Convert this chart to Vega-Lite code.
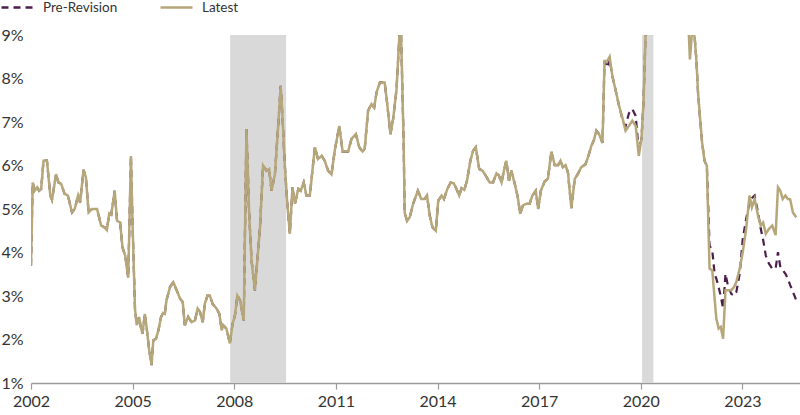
{
  "$schema": "https://vega.github.io/schema/vega-lite/v6.json",
  "width": 769,
  "height": 348,
  "autosize": {"type": "none"},
  "padding": {"left": 31, "top": 35, "right": 0, "bottom": 32},
  "background": "white",
  "config": {
    "view": {"stroke": null},
    "font": "Lato",
    "axis": {"grid": false, "title": null, "labelColor": "#333333", "labelFontSize": 16}
  },
  "datasets": {
    "recessions": [
      {"start": 2007.88, "end": 2009.53},
      {"start": 2020.04, "end": 2020.37}
    ],
    "series": [
      {"year": 2002.00, "latest": 3.70, "pre": 3.70},
      {"year": 2002.05, "latest": 5.61, "pre": 5.61},
      {"year": 2002.11, "latest": 5.42, "pre": 5.42},
      {"year": 2002.18, "latest": 5.50, "pre": 5.50},
      {"year": 2002.24, "latest": 5.42, "pre": 5.42},
      {"year": 2002.30, "latest": 5.46, "pre": 5.46},
      {"year": 2002.37, "latest": 6.11, "pre": 6.11},
      {"year": 2002.47, "latest": 6.11, "pre": 6.11},
      {"year": 2002.57, "latest": 5.31, "pre": 5.31},
      {"year": 2002.62, "latest": 5.21, "pre": 5.21},
      {"year": 2002.74, "latest": 5.80, "pre": 5.80},
      {"year": 2002.81, "latest": 5.61, "pre": 5.61},
      {"year": 2002.89, "latest": 5.58, "pre": 5.58},
      {"year": 2002.99, "latest": 5.35, "pre": 5.35},
      {"year": 2003.09, "latest": 5.31, "pre": 5.31},
      {"year": 2003.21, "latest": 4.92, "pre": 4.92},
      {"year": 2003.29, "latest": 5.00, "pre": 5.00},
      {"year": 2003.39, "latest": 5.31, "pre": 5.31},
      {"year": 2003.45, "latest": 5.15, "pre": 5.15},
      {"year": 2003.55, "latest": 5.90, "pre": 5.90},
      {"year": 2003.62, "latest": 5.73, "pre": 5.73},
      {"year": 2003.70, "latest": 4.92, "pre": 4.92},
      {"year": 2003.80, "latest": 5.00, "pre": 5.00},
      {"year": 2003.95, "latest": 5.00, "pre": 5.00},
      {"year": 2004.07, "latest": 4.62, "pre": 4.62},
      {"year": 2004.19, "latest": 4.57, "pre": 4.57},
      {"year": 2004.24, "latest": 4.52, "pre": 4.52},
      {"year": 2004.31, "latest": 4.90, "pre": 4.90},
      {"year": 2004.37, "latest": 4.87, "pre": 4.87},
      {"year": 2004.47, "latest": 5.42, "pre": 5.42},
      {"year": 2004.54, "latest": 4.73, "pre": 4.73},
      {"year": 2004.63, "latest": 4.69, "pre": 4.69},
      {"year": 2004.70, "latest": 4.12, "pre": 4.12},
      {"year": 2004.78, "latest": 3.93, "pre": 3.93},
      {"year": 2004.87, "latest": 3.42, "pre": 3.42},
      {"year": 2004.95, "latest": 6.22, "pre": 6.22},
      {"year": 2005.00, "latest": 4.60, "pre": 4.60},
      {"year": 2005.07, "latest": 2.70, "pre": 2.70},
      {"year": 2005.12, "latest": 2.33, "pre": 2.33},
      {"year": 2005.19, "latest": 2.52, "pre": 2.52},
      {"year": 2005.23, "latest": 2.33, "pre": 2.33},
      {"year": 2005.29, "latest": 2.13, "pre": 2.13},
      {"year": 2005.36, "latest": 2.59, "pre": 2.59},
      {"year": 2005.41, "latest": 2.29, "pre": 2.29},
      {"year": 2005.49, "latest": 1.75, "pre": 1.75},
      {"year": 2005.56, "latest": 1.41, "pre": 1.41},
      {"year": 2005.61, "latest": 1.98, "pre": 1.98},
      {"year": 2005.69, "latest": 2.02, "pre": 2.02},
      {"year": 2005.76, "latest": 2.21, "pre": 2.21},
      {"year": 2005.84, "latest": 2.52, "pre": 2.52},
      {"year": 2005.90, "latest": 2.61, "pre": 2.61},
      {"year": 2005.95, "latest": 2.59, "pre": 2.59},
      {"year": 2006.00, "latest": 2.90, "pre": 2.90},
      {"year": 2006.10, "latest": 3.20, "pre": 3.20},
      {"year": 2006.20, "latest": 3.32, "pre": 3.32},
      {"year": 2006.30, "latest": 3.13, "pre": 3.13},
      {"year": 2006.40, "latest": 2.94, "pre": 2.94},
      {"year": 2006.48, "latest": 2.86, "pre": 2.86},
      {"year": 2006.54, "latest": 2.33, "pre": 2.33},
      {"year": 2006.64, "latest": 2.52, "pre": 2.52},
      {"year": 2006.74, "latest": 2.40, "pre": 2.40},
      {"year": 2006.84, "latest": 2.44, "pre": 2.44},
      {"year": 2006.92, "latest": 2.71, "pre": 2.71},
      {"year": 2006.99, "latest": 2.63, "pre": 2.63},
      {"year": 2007.07, "latest": 2.40, "pre": 2.40},
      {"year": 2007.13, "latest": 2.82, "pre": 2.82},
      {"year": 2007.21, "latest": 3.01, "pre": 3.01},
      {"year": 2007.28, "latest": 3.01, "pre": 3.01},
      {"year": 2007.36, "latest": 2.82, "pre": 2.82},
      {"year": 2007.48, "latest": 2.71, "pre": 2.71},
      {"year": 2007.56, "latest": 2.59, "pre": 2.59},
      {"year": 2007.63, "latest": 2.21, "pre": 2.21},
      {"year": 2007.67, "latest": 2.33, "pre": 2.33},
      {"year": 2007.77, "latest": 2.25, "pre": 2.25},
      {"year": 2007.87, "latest": 1.91, "pre": 1.91},
      {"year": 2007.95, "latest": 2.36, "pre": 2.36},
      {"year": 2008.02, "latest": 2.55, "pre": 2.55},
      {"year": 2008.09, "latest": 3.01, "pre": 3.01},
      {"year": 2008.17, "latest": 2.90, "pre": 2.90},
      {"year": 2008.28, "latest": 2.44, "pre": 2.44},
      {"year": 2008.36, "latest": 6.84, "pre": 6.84},
      {"year": 2008.44, "latest": 4.89, "pre": 4.89},
      {"year": 2008.51, "latest": 3.82, "pre": 3.82},
      {"year": 2008.61, "latest": 3.13, "pre": 3.13},
      {"year": 2008.76, "latest": 4.58, "pre": 4.58},
      {"year": 2008.85, "latest": 6.00, "pre": 6.00},
      {"year": 2008.95, "latest": 5.88, "pre": 5.88},
      {"year": 2009.03, "latest": 5.92, "pre": 5.92},
      {"year": 2009.10, "latest": 5.42, "pre": 5.42},
      {"year": 2009.20, "latest": 5.80, "pre": 5.80},
      {"year": 2009.30, "latest": 6.95, "pre": 6.95},
      {"year": 2009.37, "latest": 7.83, "pre": 7.83},
      {"year": 2009.42, "latest": 7.18, "pre": 7.18},
      {"year": 2009.49, "latest": 6.03, "pre": 6.03},
      {"year": 2009.56, "latest": 5.19, "pre": 5.19},
      {"year": 2009.64, "latest": 4.43, "pre": 4.43},
      {"year": 2009.72, "latest": 5.50, "pre": 5.50},
      {"year": 2009.79, "latest": 5.12, "pre": 5.12},
      {"year": 2009.89, "latest": 5.46, "pre": 5.46},
      {"year": 2009.96, "latest": 5.42, "pre": 5.42},
      {"year": 2010.05, "latest": 5.61, "pre": 5.61},
      {"year": 2010.13, "latest": 5.31, "pre": 5.31},
      {"year": 2010.23, "latest": 5.31, "pre": 5.31},
      {"year": 2010.38, "latest": 6.42, "pre": 6.42},
      {"year": 2010.47, "latest": 6.15, "pre": 6.15},
      {"year": 2010.58, "latest": 6.22, "pre": 6.22},
      {"year": 2010.67, "latest": 6.11, "pre": 6.11},
      {"year": 2010.77, "latest": 5.88, "pre": 5.88},
      {"year": 2010.87, "latest": 5.80, "pre": 5.80},
      {"year": 2010.97, "latest": 6.36, "pre": 6.36},
      {"year": 2011.10, "latest": 6.91, "pre": 6.91},
      {"year": 2011.20, "latest": 6.32, "pre": 6.32},
      {"year": 2011.36, "latest": 6.32, "pre": 6.32},
      {"year": 2011.46, "latest": 6.61, "pre": 6.61},
      {"year": 2011.59, "latest": 6.72, "pre": 6.72},
      {"year": 2011.69, "latest": 6.42, "pre": 6.42},
      {"year": 2011.79, "latest": 6.32, "pre": 6.32},
      {"year": 2011.85, "latest": 6.38, "pre": 6.38},
      {"year": 2011.95, "latest": 7.26, "pre": 7.26},
      {"year": 2012.05, "latest": 7.41, "pre": 7.41},
      {"year": 2012.13, "latest": 7.33, "pre": 7.33},
      {"year": 2012.20, "latest": 7.68, "pre": 7.68},
      {"year": 2012.30, "latest": 7.91, "pre": 7.91},
      {"year": 2012.44, "latest": 7.91, "pre": 7.91},
      {"year": 2012.51, "latest": 7.45, "pre": 7.45},
      {"year": 2012.61, "latest": 6.72, "pre": 6.72},
      {"year": 2012.69, "latest": 7.07, "pre": 7.07},
      {"year": 2012.79, "latest": 7.75, "pre": 7.75},
      {"year": 2012.91, "latest": 9.50, "pre": 9.50},
      {"year": 2013.00, "latest": 6.53, "pre": 6.53},
      {"year": 2013.03, "latest": 4.92, "pre": 4.92},
      {"year": 2013.10, "latest": 4.73, "pre": 4.73},
      {"year": 2013.18, "latest": 4.81, "pre": 4.81},
      {"year": 2013.28, "latest": 5.12, "pre": 5.12},
      {"year": 2013.42, "latest": 5.42, "pre": 5.42},
      {"year": 2013.52, "latest": 5.23, "pre": 5.23},
      {"year": 2013.62, "latest": 5.23, "pre": 5.23},
      {"year": 2013.69, "latest": 5.31, "pre": 5.31},
      {"year": 2013.77, "latest": 4.85, "pre": 4.85},
      {"year": 2013.85, "latest": 4.58, "pre": 4.58},
      {"year": 2013.95, "latest": 4.50, "pre": 4.50},
      {"year": 2014.02, "latest": 5.19, "pre": 5.19},
      {"year": 2014.12, "latest": 5.31, "pre": 5.31},
      {"year": 2014.19, "latest": 5.23, "pre": 5.23},
      {"year": 2014.29, "latest": 5.46, "pre": 5.46},
      {"year": 2014.39, "latest": 5.61, "pre": 5.61},
      {"year": 2014.48, "latest": 5.59, "pre": 5.59},
      {"year": 2014.56, "latest": 5.46, "pre": 5.46},
      {"year": 2014.64, "latest": 5.31, "pre": 5.31},
      {"year": 2014.71, "latest": 5.48, "pre": 5.48},
      {"year": 2014.79, "latest": 5.44, "pre": 5.44},
      {"year": 2014.87, "latest": 5.65, "pre": 5.65},
      {"year": 2014.97, "latest": 6.11, "pre": 6.11},
      {"year": 2015.05, "latest": 6.34, "pre": 6.34},
      {"year": 2015.13, "latest": 6.42, "pre": 6.42},
      {"year": 2015.23, "latest": 5.92, "pre": 5.92},
      {"year": 2015.33, "latest": 5.88, "pre": 5.88},
      {"year": 2015.42, "latest": 5.77, "pre": 5.77},
      {"year": 2015.54, "latest": 5.61, "pre": 5.61},
      {"year": 2015.64, "latest": 5.61, "pre": 5.61},
      {"year": 2015.74, "latest": 5.82, "pre": 5.82},
      {"year": 2015.81, "latest": 5.77, "pre": 5.77},
      {"year": 2015.89, "latest": 5.61, "pre": 5.61},
      {"year": 2015.96, "latest": 5.88, "pre": 5.88},
      {"year": 2016.03, "latest": 6.11, "pre": 6.11},
      {"year": 2016.11, "latest": 5.65, "pre": 5.65},
      {"year": 2016.18, "latest": 5.88, "pre": 5.88},
      {"year": 2016.28, "latest": 5.58, "pre": 5.58},
      {"year": 2016.37, "latest": 5.27, "pre": 5.27},
      {"year": 2016.44, "latest": 4.89, "pre": 4.89},
      {"year": 2016.52, "latest": 5.08, "pre": 5.08},
      {"year": 2016.62, "latest": 5.12, "pre": 5.12},
      {"year": 2016.72, "latest": 5.12, "pre": 5.12},
      {"year": 2016.80, "latest": 5.31, "pre": 5.31},
      {"year": 2016.90, "latest": 5.42, "pre": 5.42},
      {"year": 2016.97, "latest": 5.00, "pre": 5.00},
      {"year": 2017.05, "latest": 5.42, "pre": 5.42},
      {"year": 2017.16, "latest": 5.63, "pre": 5.63},
      {"year": 2017.26, "latest": 5.70, "pre": 5.70},
      {"year": 2017.36, "latest": 6.32, "pre": 6.32},
      {"year": 2017.46, "latest": 6.01, "pre": 6.01},
      {"year": 2017.56, "latest": 6.01, "pre": 6.01},
      {"year": 2017.63, "latest": 6.11, "pre": 6.11},
      {"year": 2017.70, "latest": 5.96, "pre": 5.96},
      {"year": 2017.78, "latest": 6.01, "pre": 6.01},
      {"year": 2017.85, "latest": 5.84, "pre": 5.84},
      {"year": 2017.95, "latest": 5.02, "pre": 5.02},
      {"year": 2018.05, "latest": 5.69, "pre": 5.69},
      {"year": 2018.14, "latest": 5.80, "pre": 5.80},
      {"year": 2018.24, "latest": 5.96, "pre": 5.96},
      {"year": 2018.37, "latest": 6.03, "pre": 6.03},
      {"year": 2018.47, "latest": 6.26, "pre": 6.26},
      {"year": 2018.54, "latest": 6.45, "pre": 6.45},
      {"year": 2018.61, "latest": 6.57, "pre": 6.57},
      {"year": 2018.69, "latest": 6.80, "pre": 6.80},
      {"year": 2018.77, "latest": 6.72, "pre": 6.72},
      {"year": 2018.87, "latest": 6.52, "pre": 6.52},
      {"year": 2018.93, "latest": 8.40, "pre": 8.40},
      {"year": 2019.01, "latest": 8.40, "pre": 8.25},
      {"year": 2019.08, "latest": 8.50, "pre": 8.45},
      {"year": 2019.16, "latest": 8.06, "pre": 8.06},
      {"year": 2019.26, "latest": 7.72, "pre": 7.72},
      {"year": 2019.36, "latest": 7.37, "pre": 7.37},
      {"year": 2019.48, "latest": 7.03, "pre": 7.00},
      {"year": 2019.55, "latest": 6.80, "pre": 6.90},
      {"year": 2019.65, "latest": 6.91, "pre": 7.20},
      {"year": 2019.75, "latest": 7.03, "pre": 7.30},
      {"year": 2019.85, "latest": 6.91, "pre": 7.14},
      {"year": 2019.94, "latest": 6.22, "pre": 6.35},
      {"year": 2020.02, "latest": 6.61, "pre": 6.61},
      {"year": 2020.08, "latest": 7.45, "pre": 7.45},
      {"year": 2020.14, "latest": 8.98, "pre": 8.98},
      {"year": 2020.22, "latest": 12.0, "pre": 12.0},
      {"year": 2020.60, "latest": 14.0, "pre": 14.0},
      {"year": 2021.00, "latest": 12.5, "pre": 12.5},
      {"year": 2021.34, "latest": 10.5, "pre": 10.5},
      {"year": 2021.45, "latest": 8.44, "pre": 9.20},
      {"year": 2021.52, "latest": 9.15, "pre": 9.15},
      {"year": 2021.59, "latest": 8.95, "pre": 8.95},
      {"year": 2021.64, "latest": 8.44, "pre": 8.44},
      {"year": 2021.69, "latest": 7.68, "pre": 7.68},
      {"year": 2021.76, "latest": 6.99, "pre": 6.99},
      {"year": 2021.81, "latest": 6.53, "pre": 6.53},
      {"year": 2021.88, "latest": 6.11, "pre": 6.11},
      {"year": 2021.95, "latest": 6.00, "pre": 6.00},
      {"year": 2022.03, "latest": 3.63, "pre": 4.16},
      {"year": 2022.11, "latest": 3.59, "pre": 4.05},
      {"year": 2022.18, "latest": 2.94, "pre": 3.50},
      {"year": 2022.23, "latest": 2.48, "pre": 3.40},
      {"year": 2022.30, "latest": 2.25, "pre": 3.20},
      {"year": 2022.36, "latest": 2.29, "pre": 3.00},
      {"year": 2022.43, "latest": 2.02, "pre": 2.71},
      {"year": 2022.50, "latest": 3.13, "pre": 3.51},
      {"year": 2022.57, "latest": 3.13, "pre": 3.25},
      {"year": 2022.67, "latest": 3.13, "pre": 3.05},
      {"year": 2022.75, "latest": 3.20, "pre": 3.01},
      {"year": 2022.82, "latest": 3.32, "pre": 3.09},
      {"year": 2022.92, "latest": 3.63, "pre": 3.51},
      {"year": 2023.01, "latest": 4.01, "pre": 4.31},
      {"year": 2023.11, "latest": 4.54, "pre": 4.77},
      {"year": 2023.21, "latest": 5.31, "pre": 5.15},
      {"year": 2023.28, "latest": 5.04, "pre": 5.25},
      {"year": 2023.36, "latest": 5.23, "pre": 5.31},
      {"year": 2023.46, "latest": 4.85, "pre": 4.92},
      {"year": 2023.54, "latest": 4.62, "pre": 4.55},
      {"year": 2023.61, "latest": 4.69, "pre": 4.30},
      {"year": 2023.69, "latest": 4.43, "pre": 3.93},
      {"year": 2023.78, "latest": 4.54, "pre": 3.75},
      {"year": 2023.88, "latest": 4.62, "pre": 3.63},
      {"year": 2023.98, "latest": 4.40, "pre": 3.63},
      {"year": 2024.05, "latest": 5.50, "pre": 4.01},
      {"year": 2024.12, "latest": 5.42, "pre": 3.66},
      {"year": 2024.19, "latest": 5.23, "pre": 3.60},
      {"year": 2024.27, "latest": 5.31, "pre": 3.51},
      {"year": 2024.34, "latest": 5.23, "pre": 3.40},
      {"year": 2024.41, "latest": 5.22, "pre": 3.25},
      {"year": 2024.49, "latest": 4.92, "pre": 3.10},
      {"year": 2024.59, "latest": 4.81, "pre": 2.90}
    ]
  },
  "layer": [
    {
      "data": {"name": "recessions"},
      "mark": {"type": "rect", "color": "#d9d9d9"},
      "encoding": {
        "x": {
          "field": "start",
          "type": "quantitative",
          "scale": {"domain": [2002, 2024.7], "nice": false, "zero": false},
          "axis": {
            "values": [2002, 2005, 2008, 2011, 2014, 2017, 2020, 2023],
            "format": "d",
            "labelFlush": false,
            "labelOverlap": false,
            "domainColor": "#9a9a9a",
            "domainWidth": 1.5,
            "tickColor": "#9a9a9a",
            "tickWidth": 1.2,
            "tickSize": 6,
            "labelPadding": 4
          }
        },
        "x2": {"field": "end"}
      }
    },
    {
      "data": {"name": "series"},
      "transform": [{"fold": ["pre"], "as": ["series", "value"]}],
      "mark": {"type": "line", "strokeWidth": 2.2, "clip": true},
      "encoding": {
        "x": {"field": "year", "type": "quantitative"},
        "y": {
          "field": "value",
          "type": "quantitative",
          "scale": {"domain": [1, 9], "nice": false, "zero": false},
          "axis": {
            "values": [1, 2, 3, 4, 5, 6, 7, 8, 9],
            "labelExpr": "datum.value + '%'",
            "domain": false,
            "ticks": false,
            "labelPadding": 8
          }
        },
        "color": {
          "field": "series",
          "type": "nominal",
          "scale": {"domain": ["pre", "latest"], "range": ["#4b1e4b", "#b6a77a"]},
          "legend": {
            "title": null,
            "orient": "none",
            "legendX": -31,
            "legendY": -45,
            "direction": "horizontal",
            "symbolType": "stroke",
            "symbolSize": 1024,
            "symbolStrokeWidth": 2.5,
            "labelFontSize": 13.5,
            "labelColor": "#333333",
            "labelOffset": 8,
            "columnPadding": 37,
            "labelExpr": "datum.label == 'pre' ? 'Pre-Revision' : 'Latest'"
          }
        },
        "strokeDash": {
          "field": "series",
          "type": "nominal",
          "scale": {"domain": ["pre", "latest"], "range": [[7, 5], [1, 0]]},
          "legend": {
            "title": null,
            "orient": "none",
            "legendX": -31,
            "legendY": -45,
            "direction": "horizontal",
            "symbolType": "stroke",
            "symbolSize": 1024,
            "symbolStrokeWidth": 2.5,
            "labelFontSize": 13.5,
            "labelColor": "#333333",
            "labelOffset": 8,
            "columnPadding": 37,
            "labelExpr": "datum.label == 'pre' ? 'Pre-Revision' : 'Latest'"
          }
        }
      }
    },
    {
      "data": {"name": "series"},
      "transform": [{"fold": ["latest"], "as": ["series", "value"]}],
      "mark": {"type": "line", "strokeWidth": 2.5, "clip": true},
      "encoding": {
        "x": {"field": "year", "type": "quantitative"},
        "y": {"field": "value", "type": "quantitative"},
        "color": {"field": "series", "type": "nominal"},
        "strokeDash": {"field": "series", "type": "nominal"}
      }
    }
  ]
}
